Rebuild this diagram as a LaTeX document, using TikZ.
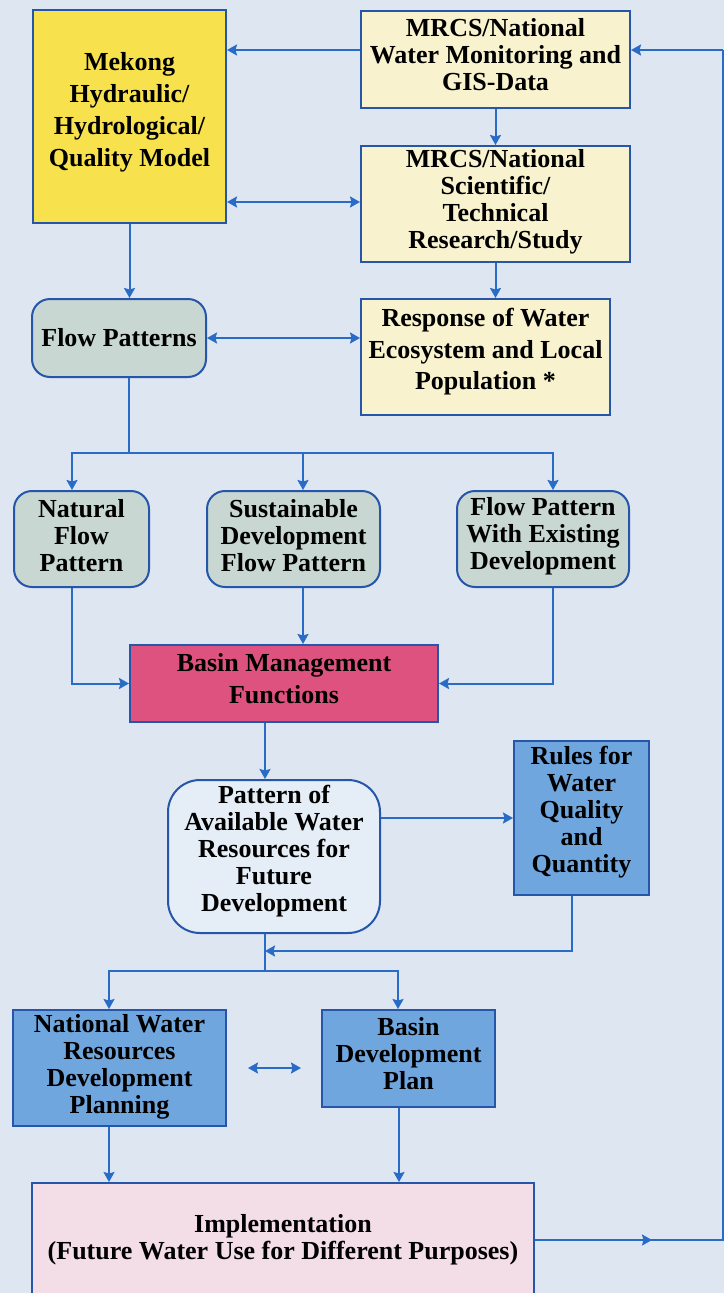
\documentclass[tikz,border=0pt]{standalone}
\usepackage{fontspec}
\setmainfont{Liberation Serif}
\usetikzlibrary{arrows.meta,calc}
\definecolor{bg}{RGB}{221,230,241}
\definecolor{ln}{RGB}{40,108,200}
\definecolor{bd}{RGB}{38,86,170}
\definecolor{yel}{RGB}{247,226,77}
\definecolor{cream}{RGB}{248,242,206}
\definecolor{sage}{RGB}{200,215,210}
\definecolor{rose}{RGB}{222,82,128}
\definecolor{pale}{RGB}{229,237,246}
\definecolor{blu}{RGB}{112,166,222}
\definecolor{pink}{RGB}{243,221,231}
\tikzset{
  box/.style={draw=bd, line width=2pt, inner sep=0pt},
  rbox/.style={box, rounded corners=18pt},
  txt/.style={align=center, inner sep=0pt, text=black,
    font=\bfseries\fontsize{26}{27}\selectfont},
  wtxt/.style={txt, font=\bfseries\fontsize{26}{31.5}\selectfont},
  wire/.style={draw=ln, line width=2pt},
  tip/.tip={Stealth[length=10pt,width=11pt,inset=1.5pt]},
  arr/.style={wire, -tip},
  darr/.style={wire, tip-tip},
}
\begin{document}
\begin{tikzpicture}[x=1pt,y=-1pt]
\path[use as bounding box, fill=bg] (0,0) rectangle (724,1293);

% boxes
\node[box, fill=yel, minimum width=193pt, minimum height=213pt] (mekong) at (129.5,116.5) {};
\node[box, fill=cream, minimum width=269pt, minimum height=97pt] (water) at (495.5,59.5) {};
\node[box, fill=cream, minimum width=269pt, minimum height=116pt] (sci) at (495.5,204) {};
\node[box, fill=cream, minimum width=249pt, minimum height=116pt] (resp) at (485.5,357) {};
\node[rbox, fill=sage, minimum width=174pt, minimum height=78pt] (flow) at (119,338) {};
\node[rbox, fill=sage, minimum width=135pt, minimum height=96pt] (nat) at (81.5,539) {};
\node[rbox, fill=sage, minimum width=173pt, minimum height=96pt] (sus) at (293.5,539) {};
\node[rbox, fill=sage, minimum width=172pt, minimum height=96pt] (exist) at (543,539) {};
\node[box, fill=rose, minimum width=308pt, minimum height=77pt] (bmf) at (284,683.5) {};
\node[box, fill=pale, rounded corners=32pt, minimum width=212pt, minimum height=153pt] (pat) at (274,856.5) {};
\node[box, fill=blu, minimum width=135pt, minimum height=154pt] (rules) at (581.5,818) {};
\node[box, fill=blu, minimum width=213pt, minimum height=116pt] (nwr) at (119.5,1068) {};
\node[box, fill=blu, minimum width=173pt, minimum height=97pt] (bdp) at (408.5,1058.5) {};
\node[box, fill=pink, minimum width=502pt, minimum height=117pt] (impl) at (283,1241.5) {};

% texts
\node[wtxt, font=\bfseries\fontsize{26}{32}\selectfont] (mekongT) at ([yshift=4pt]mekong.center)
  {Mekong\\Hydraulic/\\Hydrological/\\Quality Model};
\node[txt] (waterT) at ([yshift=5pt]water.center)
  {MRCS/National\\Water Monitoring and\\GIS-Data};
\node[txt] (sciT) at ([yshift=2pt]sci.center)
  {MRCS/National\\Scientific/\\Technical\\Research/Study};
\node[wtxt] (respT) at ([yshift=5pt]resp.center)
  {Response of Water\\Ecosystem and Local\\Population *};
\node[txt] (flowT) at (flow.center) {Flow Patterns};
\node[txt] (natT) at ([yshift=3pt]nat.center) {Natural\\Flow\\Pattern};
\node[txt] (susT) at ([yshift=3pt]sus.center) {Sustainable\\Development\\Flow Pattern};
\node[txt] (existT) at ([yshift=3pt]exist.center) {Flow Pattern\\With Existing\\Development};
\node[wtxt, font=\bfseries\fontsize{26}{32}\selectfont] (bmfT) at ([yshift=4.5pt]bmf.center)
  {Basin Management\\Functions};
\node[txt] (patT) at ([yshift=5pt]pat.center)
  {Pattern of\\Available Water\\Resources for\\Future\\Development};
\node[txt] (rulesT) at ([yshift=6pt]rules.center)
  {Rules for\\Water\\Quality\\and\\Quantity};
\node[txt] (nwrT) at ([yshift=1pt]nwr.center)
  {National Water\\Resources\\Development\\Planning};
\node[txt] (bdpT) at ([yshift=4.5pt]bdp.center)
  {Basin\\Development\\Plan};
\node[txt] (implT) at ([yshift=1.5pt]impl.center)
  {Implementation\\(Future Water Use for Different Purposes)};

% free coordinates
\coordinate (s1) at (129,453);
\coordinate (s2) at (265,971);
\coordinate (m2) at (265,951);
\coordinate (fbm) at (652,1240);
\coordinate (fbc1) at (722.5,1240);
\coordinate (fbc2) at (722.5,50);

% connectors
\draw[arr] (water.west |- 0,50) -- (mekong.east |- 0,50);
\draw[arr] (water.south) -- (sci.north);
\draw[darr] (mekong.east |- 0,202) -- (sci.west |- 0,202);
\draw[arr] (mekong.south) -- (mekong.south |- flow.north);
\draw[arr] (sci.south) -- (sci.south |- resp.north);
\draw[darr] (flow.east) -- (resp.west |- flow.east);

\draw[wire] (flow.south -| s1) -- (s1);
\draw[arr] (s1) -| (nat.north -| 72,0);
\draw[arr] (s1) -| (sus.north -| 303,0);
\draw[arr] (s1) -| (exist.north -| 553,0);

\draw[arr] (nat.south -| 72,0) |- (bmf.west);
\draw[arr] (sus.south -| 303,0) -- (bmf.north -| 303,0);
\draw[arr] (exist.south -| 553,0) |- (bmf.east);

\draw[arr] (bmf.south -| 265,0) -- (pat.north -| 265,0);
\draw[arr] (pat.east |- 0,818) -- (rules.west |- 0,818);
\draw[arr] (rules.south -| 572,0) |- (m2);

\draw[wire] (pat.south -| s2) -- (s2);
\draw[arr] (s2) -| (nwr.north -| 109,0);
\draw[arr] (s2) -| (bdp.north -| 398,0);

\draw[darr] ([xshift=21pt]nwr.east) -- ([xshift=-20pt]nwr.east -| bdp.west);

\draw[arr] (nwr.south -| 109,0) -- (impl.north -| 109,0);
\draw[arr] (bdp.south -| 399,0) -- (impl.north -| 399,0);

\draw[arr] (impl.east |- fbm) -- (fbm);
\draw[wire] ([xshift=-2pt]fbm) -- (fbc1) -- (fbc2);
\draw[arr] (fbc2) -- (water.east |- fbc2);
\end{tikzpicture}
\end{document}
